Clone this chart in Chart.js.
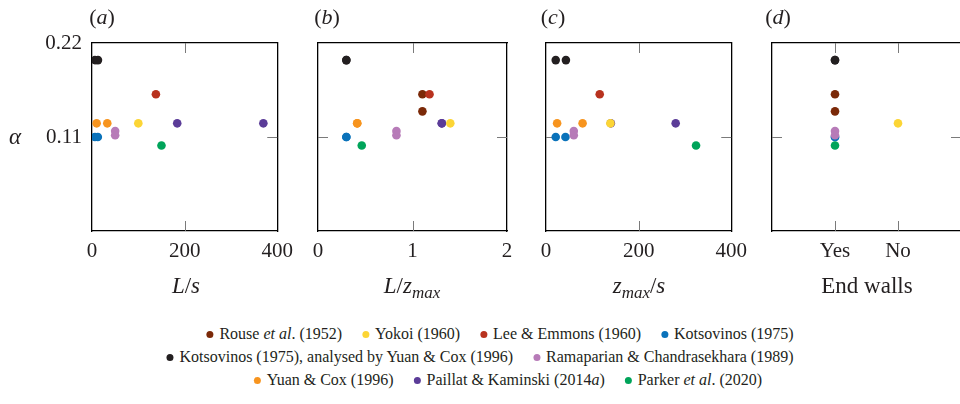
<!DOCTYPE html>
<html>
<head>
<meta charset="utf-8">
<script src="https://cdn.jsdelivr.net/npm/chart.js@4"></script>
<style>
  html, body { margin: 0; padding: 0; background: #fff; }
  body {
    width: 960px; height: 404px; position: relative; overflow: hidden;
    font-family: "Times New Roman", "Liberation Serif", Tinos, "Nimbus Roman", "DejaVu Serif", serif; color: #231f20;
  }
  canvas { position: absolute; top: 0; }
  .lbl { position: absolute; transform: translate(-50%, -50%); white-space: nowrap; line-height: 1; }
  .tag { font-size: 22px; }
  .title { font-size: 23px; }
  .title sub { font-size: 17px; vertical-align: -5px; }
  .legend-row {
    position: absolute; transform: translate(-50%, -50%);
    display: flex; align-items: center; white-space: nowrap; font-size: 16px; line-height: 1;
  }
  .legend-item { display: flex; align-items: center; margin: 0 10px; }
  .dot { width: 7px; height: 7px; border-radius: 50%; margin-right: 6px; }
</style>
</head>
<body>
<canvas id="panel-a" width="301" height="310" style="left:0px"></canvas>
<canvas id="panel-b" width="239" height="310" style="left:288px"></canvas>
<canvas id="panel-c" width="239" height="310" style="left:516px"></canvas>
<canvas id="panel-d" width="239" height="310" style="left:742px"></canvas>

<div class="lbl tag" style="left:102px; top:17px">(<i>a</i>)</div>
<div class="lbl tag" style="left:327px; top:17px">(<i>b</i>)</div>
<div class="lbl tag" style="left:553px; top:17px">(<i>c</i>)</div>
<div class="lbl tag" style="left:778px; top:17px">(<i>d</i>)</div>

<div class="lbl title" style="left:15px; top:136px"><i>α</i></div>
<div class="lbl title" style="left:186px; top:285px"><i>L</i>/<i>s</i></div>
<div class="lbl title" style="left:412px; top:287px"><i>L</i>/<i>z<sub>max</sub></i></div>
<div class="lbl title" style="left:639px; top:287px"><i>z<sub>max</sub></i>/<i>s</i></div>
<div class="lbl title" style="left:867px; top:285px">End walls</div>

<div id="legend"></div>

<script>
// --- Tick values / labels ---
const alphaTicks = [0, 0.11, 0.22];
const alphaTickLabels = ['', '0.11', '0.22'];
const lsTicks = [0, 200, 400];
const lzTicks = [0, 1, 2];
const zsTicks = [0, 200, 400];
const wallTicks = ['', 'Yes', 'No', ''];

// --- Data (null = not plotted in that panel) ---
const rouseAlpha = [0.16, 0.14];
const rouseLs = [null, null];
const rouseLz = [1.105, 1.105];
const rouseZs = [null, null];
const rouseWalls = ['Yes', 'Yes'];

const yokoiAlpha = [0.126];
const yokoiLs = [100];
const yokoiLz = [1.40];
const yokoiZs = [139];
const yokoiWalls = ['No'];

const leeAlpha = [0.16];
const leeLs = [138];
const leeLz = [1.18];
const leeZs = [116];
const leeWalls = [null];

const kotsAlpha = [0.11, 0.11];
const kotsLs = [6.3, 12.6];
const kotsLz = [0.30, 0.30];
const kotsZs = [21, 42];
const kotsWalls = ['Yes', 'Yes'];

const kotsYcAlpha = [0.20, 0.20];
const kotsYcLs = [6.3, 12.9];
const kotsYcLz = [0.30, 0.30];
const kotsYcZs = [21, 43];
const kotsYcWalls = ['Yes', 'Yes'];

const ramAlpha = [0.117, 0.112];
const ramLs = [50, 50];
const ramLz = [0.83, 0.83];
const ramZs = [60, 60];
const ramWalls = ['Yes', 'Yes'];

const yuanAlpha = [0.126, 0.126];
const yuanLs = [10, 33];
const yuanLz = [0.415, 0.415];
const yuanZs = [24, 79];
const yuanWalls = [null, null];

const paillatAlpha = [0.126, 0.126];
const paillatLs = [184, 370];
const paillatLz = [1.31, 1.31];
const paillatZs = [140, 280];
const paillatWalls = [null, null];

const parkerAlpha = [0.10];
const parkerLs = [150];
const parkerLz = [0.463];
const parkerZs = [324];
const parkerWalls = ['Yes'];

const series = [
    { name: 'Rouse <i>et al</i>. (1952)', color: '#7b2908', alpha: rouseAlpha, ls: rouseLs, lz: rouseLz, zs: rouseZs, walls: rouseWalls },
    { name: 'Yokoi (1960)', color: '#fcd535', alpha: yokoiAlpha, ls: yokoiLs, lz: yokoiLz, zs: yokoiZs, walls: yokoiWalls },
    { name: 'Lee &amp; Emmons (1960)', color: '#b8321e', alpha: leeAlpha, ls: leeLs, lz: leeLz, zs: leeZs, walls: leeWalls },
    { name: 'Kotsovinos (1975)', color: '#0a72ba', alpha: kotsAlpha, ls: kotsLs, lz: kotsLz, zs: kotsZs, walls: kotsWalls },
    { name: 'Kotsovinos (1975), analysed by Yuan &amp; Cox (1996)', color: '#231f20', alpha: kotsYcAlpha, ls: kotsYcLs, lz: kotsYcLz, zs: kotsYcZs, walls: kotsYcWalls },
    { name: 'Ramaparian &amp; Chandrasekhara (1989)', color: '#b77bb8', alpha: ramAlpha, ls: ramLs, lz: ramLz, zs: ramZs, walls: ramWalls },
    { name: 'Yuan &amp; Cox (1996)', color: '#f7941e', alpha: yuanAlpha, ls: yuanLs, lz: yuanLz, zs: yuanZs, walls: yuanWalls },
    { name: 'Paillat &amp; Kaminski (2014<i>a</i>)', color: '#5b3c98', alpha: paillatAlpha, ls: paillatLs, lz: paillatLz, zs: paillatZs, walls: paillatWalls },
    { name: 'Parker <i>et al</i>. (2020)', color: '#00a45a', alpha: parkerAlpha, ls: parkerLs, lz: parkerLz, zs: parkerZs, walls: parkerWalls }
];

const legendRows = [[0, 1, 2, 3], [4, 5], [6, 7, 8]];
// Chart.js paints dataset 0 last, so the list starts with the dot that sits on top
const drawOrder = [1, 2, 5, 8, 7, 6, 4, 3, 0];

const FONT = { family: '"Times New Roman", "Liberation Serif", Tinos, "DejaVu Serif", serif', size: 21 };
const INK = '#231f20';

// short tick marks pointing into the box, on all four sides
const innerTicks = {
    id: 'innerTicks',
    beforeDatasetsDraw(chart) {
        const { ctx, chartArea: a, scales: { x, y } } = chart;
        const len = 10;
        ctx.save();
        ctx.strokeStyle = '#7a7a7a';
        ctx.lineWidth = 1;
        ctx.beginPath();
        x.ticks.forEach(t => {
            const px = Math.round(x.getPixelForValue(t.value)) + 0.5;
            if (px <= a.left + 1 || px >= a.right - 1) return;
            ctx.moveTo(px, a.bottom); ctx.lineTo(px, a.bottom - len);
            ctx.moveTo(px, a.top); ctx.lineTo(px, a.top + len);
        });
        y.ticks.forEach(t => {
            const py = Math.round(y.getPixelForValue(t.value)) + 0.5;
            if (py <= a.top + 1 || py >= a.bottom - 1) return;
            ctx.moveTo(a.left, py); ctx.lineTo(a.left + len, py);
            ctx.moveTo(a.right, py); ctx.lineTo(a.right - len, py);
        });
        ctx.stroke();
        ctx.restore();
    }
};

function boxEdge(position) {
    return {
        type: 'linear', position: position, min: 0, max: 1,
        ticks: { display: false },
        grid: { display: false, drawTicks: false },
        border: { color: '#000', width: 1.3 },
        afterFit: s => { if (position === 'top') s.height = 0; else s.width = 0; }
    };
}

function makePanel(id, key, xMin, xMax, xTicks, xLabels, leftW, showY, toX) {
    const datasets = drawOrder.map(i => {
        const s = series[i];
        const pts = [];
        s.alpha.forEach((a, k) => {
            const xv = s[key][k];
            if (xv === null) return;
            pts.push({ x: toX ? toX(xv) : xv, y: a });
        });
        return {
            label: s.name.replace(/<[^>]+>/g, ''),
            data: pts,
            backgroundColor: s.color,
            borderWidth: 0,
            pointRadius: 4.3,
            pointHoverRadius: 4.3
        };
    });

    new Chart(document.getElementById(id), {
        type: 'scatter',
        data: { datasets: datasets },
        options: {
            responsive: false,
            animation: false,
            events: [],
            devicePixelRatio: 1,
            layout: { padding: { top: 43, right: 20, left: 0, bottom: 0 } },
            plugins: { legend: { display: false }, tooltip: { enabled: false } },
            scales: {
                x: {
                    type: 'linear', position: 'bottom', min: xMin, max: xMax,
                    afterBuildTicks: s => { s.ticks = xTicks.map(v => ({ value: v })); },
                    afterFit: s => { s.height = 79; },
                    ticks: { callback: (v, i) => xLabels[i], font: FONT, color: INK, padding: 8, maxRotation: 0, autoSkip: false },
                    grid: { display: false, drawTicks: false },
                    border: { color: '#000', width: 1.3 }
                },
                y: {
                    type: 'linear', position: 'left', min: 0, max: 0.22,
                    afterBuildTicks: s => { s.ticks = alphaTicks.map(v => ({ value: v })); },
                    afterFit: s => { s.width = leftW; },
                    ticks: { display: showY, callback: (v, i) => alphaTickLabels[i], font: FONT, color: INK, padding: 10 },
                    grid: { display: false, drawTicks: false },
                    border: { color: '#000', width: 1.3 }
                },
                x2: boxEdge('top'),
                y2: boxEdge('right')
            }
        },
        plugins: [innerTicks]
    });
}

makePanel('panel-a', 'ls', 0, 400, lsTicks, lsTicks.map(String), 92, true);
makePanel('panel-b', 'lz', 0, 2, lzTicks, lzTicks.map(String), 30, false);
makePanel('panel-c', 'zs', 0, 400, zsTicks, zsTicks.map(String), 30, false);
makePanel('panel-d', 'walls', 0, 3, wallTicks.map((w, i) => i), wallTicks, 30, false, w => wallTicks.indexOf(w));

// --- Legend ---
const legendRowY = [334, 357, 380];
const legendRowX = [500, 480, 508];
const legend = document.getElementById('legend');
legendRows.forEach((row, r) => {
    const div = document.createElement('div');
    div.className = 'legend-row';
    div.style.left = legendRowX[r] + 'px';
    div.style.top = legendRowY[r] + 'px';
    row.forEach(i => {
        const item = document.createElement('div');
        item.className = 'legend-item';
        item.innerHTML = `<span class="dot" style="background:${series[i].color}"></span><span>${series[i].name}</span>`;
        div.appendChild(item);
    });
    legend.appendChild(div);
});
</script>
</body>
</html>
